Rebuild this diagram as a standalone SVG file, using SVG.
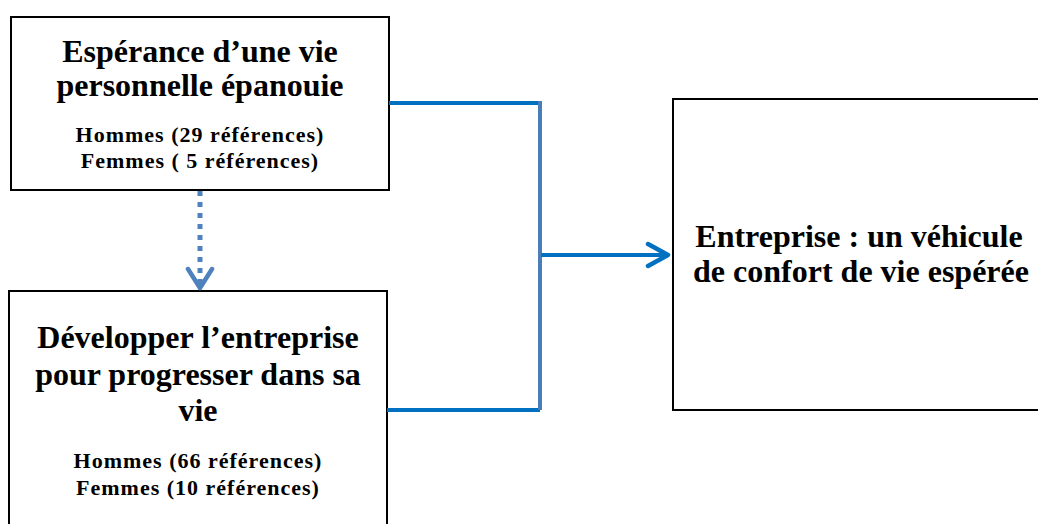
<svg xmlns="http://www.w3.org/2000/svg" width="1038" height="524" viewBox="0 0 1038 524">
<style>
.box{fill:#fff;stroke:#000;stroke-width:2}
.t{font-family:"Liberation Serif","Times New Roman",serif;font-weight:bold;fill:#000;text-anchor:middle}
.h{font-size:32px}
.s{font-size:22px;letter-spacing:1px}
.c{fill:none;stroke:#0070C0;stroke-width:4}
</style>
<defs>
<marker id="chev" markerWidth="26" markerHeight="28" refX="23" refY="14" orient="auto" markerUnits="userSpaceOnUse">
<path d="M3,3 L23,14 L3,25" fill="none" stroke="#0070C0" stroke-width="4.5" stroke-linecap="round" stroke-linejoin="round"/>
</marker>
<marker id="chev2" markerWidth="26" markerHeight="30" refX="22" refY="15" orient="auto" markerUnits="userSpaceOnUse">
<path d="M3,3 L22,15 L3,27" fill="none" stroke="#4F81BD" stroke-width="4.5" stroke-linecap="round" stroke-linejoin="round"/>
</marker>
</defs>
<g id="node1">
<rect class="box" x="11" y="17" width="378" height="173"/>
<text class="t h" x="200" y="62">Espérance d’une vie</text>
<text class="t h" x="200" y="96">personnelle épanouie</text>
<text class="t s" x="200" y="142">Hommes (29 références)</text>
<text class="t s" x="200" y="168">Femmes ( 5 références)</text>
</g>
<g id="node2">
<rect class="box" x="9" y="291" width="378" height="245"/>
<text class="t h" x="198" y="348">Développer l’entreprise</text>
<text class="t h" x="198" y="385">pour progresser dans sa</text>
<text class="t h" x="198" y="421">vie</text>
<text class="t s" x="198" y="468">Hommes (66 références)</text>
<text class="t s" x="198" y="495">Femmes (10 références)</text>
</g>
<g id="node3">
<rect class="box" x="673" y="99" width="380" height="311"/>
<text class="t h" x="859" y="247">Entreprise : un véhicule</text>
<text class="t h" x="861" y="282">de confort de vie espérée</text>
</g>
<g id="connectors">
<line x1="200" y1="191" x2="200" y2="288" stroke="#4F81BD" stroke-width="5" stroke-dasharray="5,6" marker-end="url(#chev2)"/>
<line class="c" x1="389" y1="103" x2="540" y2="103"/>
<line class="c" x1="387" y1="410" x2="540" y2="410"/>
<line x1="540" y1="101" x2="540" y2="410" stroke="#4A7EBB" stroke-width="4"/>
<line class="c" x1="541" y1="255" x2="668" y2="255" marker-end="url(#chev)"/>
</g>
</svg>
